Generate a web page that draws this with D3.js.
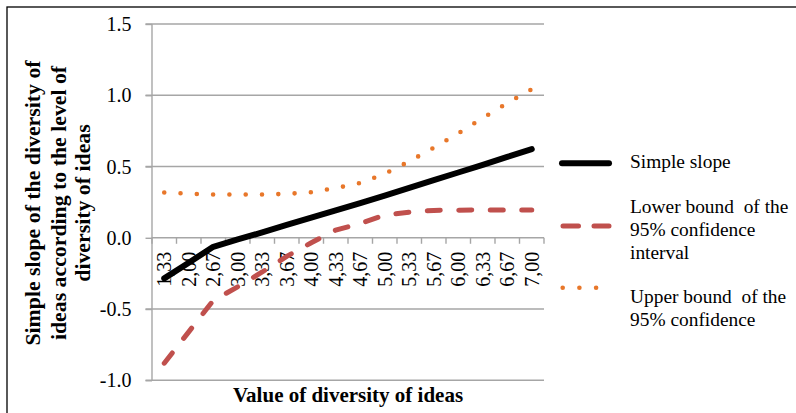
<!DOCTYPE html>
<html>
<head>
<meta charset="utf-8">
<script src="https://cdn.jsdelivr.net/npm/d3@7"></script>
<style>
  html, body { margin: 0; padding: 0; background: #fff; }
  svg { display: block; }
  text { font-family: "Liberation Serif", "Times New Roman", serif; fill: #000; }
</style>
</head>
<body>
<svg id="chart" width="796" height="413"></svg>
<script>
// ---- data ----
const categories = ["1,33","2,00","2,67","3,00","3,33","3,67","4,00","4,33","4,67","5,00","5,33","5,67","6,00","6,33","6,67","7,00"];
const simpleSlope = [-0.285,-0.175,-0.063,-0.012,0.038,0.09,0.142,0.192,0.243,0.296,0.35,0.404,0.458,0.512,0.567,0.622];
const lowerBound  = [-0.88,-0.66,-0.44,-0.344,-0.24,-0.13,-0.035,0.054,0.10,0.16,0.18,0.192,0.194,0.195,0.195,0.195];
const upperBound  = [0.318,0.309,0.304,0.304,0.304,0.308,0.32,0.349,0.384,0.449,0.536,0.632,0.733,0.84,0.945,1.042];
const yTickValues = [-1.0,-0.5,0.0,0.5,1.0,1.5];
const yTickLabels = ["-1.0","-0.5","0.0","0.5","1.0","1.5"];
const seriesNames = ["Simple slope", "Lower bound  of the 95% confidence interval", "Upper bound  of the 95% confidence"];
const legendLines = [["Simple slope"], ["Lower bound  of the","95% confidence","interval"], ["Upper bound  of the","95% confidence"]];
const xTitle = "Value of diversity of ideas";
const yTitleLines = ["Simple slope of the diversity of","ideas according to the level of","diversity of ideas"];

// ---- layout ----
const svg = d3.select("#chart");
const plot = {left: 152, right: 544, top: 24, bottom: 380.3};
const x = d3.scaleBand().domain(categories).range([plot.left, plot.right]).padding(0);
const y = d3.scaleLinear().domain([-1, 1.5]).range([plot.bottom, plot.top]);
const cx = c => x(c) + x.bandwidth() / 2;
const gridColor = "#a6a6a6";

// frame
svg.append("rect").attr("x", 7).attr("y", 7).attr("width", 820).attr("height", 440)
  .attr("fill", "none").attr("stroke", "#000").attr("stroke-width", 1.3);

// gridlines (+ outward ticks on y axis)
svg.append("g").selectAll("line").data(yTickValues.filter(v => v !== 0)).join("line")
  .attr("x1", plot.left - 6.5).attr("x2", plot.right)
  .attr("y1", d => y(d)).attr("y2", d => y(d))
  .attr("stroke", gridColor).attr("stroke-width", 1.4);

// y axis
const yAxis = d3.axisLeft(y).tickValues(yTickValues)
  .tickFormat((d, i) => yTickLabels[i]).tickSize(6.5).tickPadding(14);
const gy = svg.append("g").attr("transform", `translate(${plot.left},0)`).call(yAxis);
gy.select(".domain").attr("stroke", gridColor).attr("stroke-width", 1.4)
  .attr("d", `M0,${plot.top}V${plot.bottom}`);
gy.selectAll(".tick line").attr("stroke", gridColor).attr("stroke-width", 1.4);
gy.selectAll(".tick text").attr("font-family", "Liberation Serif, Times New Roman, serif")
  .attr("font-size", 20).attr("fill", "#000").attr("dy", "0.33em");

// x axis on y=0
const y0 = y(0);
const gx = svg.append("g");
gx.append("line").attr("x1", plot.left).attr("x2", plot.right).attr("y1", y0).attr("y2", y0)
  .attr("stroke", gridColor).attr("stroke-width", 1.4);
const bounds = categories.map(c => x(c)).concat([x.range()[1]]);
gx.selectAll("line.tk").data(bounds).join("line").attr("class", "tk")
  .attr("x1", d => d).attr("x2", d => d).attr("y1", y0).attr("y2", y0 + 6)
  .attr("stroke", gridColor).attr("stroke-width", 1.4);
gx.selectAll("text").data(categories).join("text")
  .attr("transform", d => `translate(${cx(d) + 6.8},${y0 + 14}) rotate(-90)`)
  .attr("text-anchor", "end").attr("font-size", 20).text(d => d);

// series
const line = d3.line().x((d, i) => cx(categories[i])).y(d => y(d));
svg.append("path").datum(lowerBound).attr("d", line)
  .attr("fill", "none").attr("stroke", "#c0504d").attr("stroke-width", 5)
  .attr("stroke-linecap", "round").attr("stroke-dasharray", "13,18.5");
svg.append("path").datum(upperBound).attr("d", line)
  .attr("fill", "none").attr("stroke", "#e8772a").attr("stroke-width", 4.6)
  .attr("stroke-linecap", "round").attr("stroke-dasharray", "0,16.3");
svg.append("path").datum(simpleSlope).attr("d", line)
  .attr("fill", "none").attr("stroke", "#000").attr("stroke-width", 6)
  .attr("stroke-linecap", "round").attr("stroke-linejoin", "round");

// axis titles
svg.append("text").attr("x", (plot.left + plot.right) / 2).attr("y", 402)
  .attr("text-anchor", "middle").attr("font-weight", "bold").attr("font-size", 21).text(xTitle);
const yt = svg.append("text").attr("transform", "translate(0,203) rotate(-90)")
  .attr("text-anchor", "middle").attr("font-weight", "bold").attr("font-size", 21.8);
yTitleLines.forEach((t, i) => {
  yt.append("tspan").attr("x", 0).attr("y", [40, 65.5, 90][i]).text(t);
});

// legend
const leg = svg.append("g");
const lx1 = 562, lx2 = 609;
leg.append("line").attr("x1", lx1).attr("x2", lx2).attr("y1", 163.3).attr("y2", 163.3)
  .attr("stroke", "#000").attr("stroke-width", 6).attr("stroke-linecap", "round");
leg.append("line").attr("x1", lx1 + 1).attr("x2", lx2).attr("y1", 226).attr("y2", 226)
  .attr("stroke", "#c0504d").attr("stroke-width", 5).attr("stroke-linecap", "round")
  .attr("stroke-dasharray", "15.5,15.5");
leg.append("line").attr("x1", lx1 + 0.7).attr("x2", lx2).attr("y1", 287.7).attr("y2", 287.7)
  .attr("stroke", "#e8772a").attr("stroke-width", 4.6).attr("stroke-linecap", "round")
  .attr("stroke-dasharray", "0,16.7");
const legBaselines = [[168], [213.3, 236, 258.5], [303.3, 325.5]];
legendLines.forEach((lines, si) => {
  const t = leg.append("text").attr("font-size", 19.4).style("white-space", "pre");
  lines.forEach((s, k) => t.append("tspan").attr("x", 630).attr("y", legBaselines[si][k]).text(s));
});
</script>
</body>
</html>
